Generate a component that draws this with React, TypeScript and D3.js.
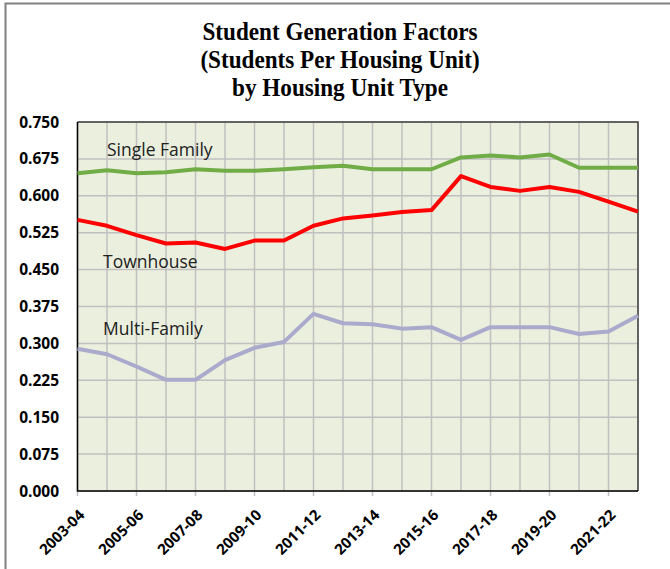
import * as d3 from "d3";
import { useEffect, useRef } from "react";

const years = [
  "2003-04", "2004-05", "2005-06", "2006-07", "2007-08", "2008-09", "2009-10",
  "2010-11", "2011-12", "2012-13", "2013-14", "2014-15", "2015-16", "2016-17",
  "2017-18", "2018-19", "2019-20", "2020-21", "2021-22", "2022-23",
];
const singleFamily = [0.646, 0.652, 0.646, 0.648, 0.654, 0.651, 0.651, 0.654, 0.658, 0.661,
  0.654, 0.654, 0.654, 0.678, 0.682, 0.678, 0.684, 0.657, 0.657, 0.657];
const townhouse = [0.551, 0.539, 0.52, 0.503, 0.505, 0.492, 0.509, 0.509, 0.539, 0.554,
  0.56, 0.567, 0.571, 0.64, 0.618, 0.61, 0.618, 0.608, 0.588, 0.568];
const multiFamily = [0.289, 0.278, 0.253, 0.226, 0.226, 0.266, 0.291, 0.303, 0.36, 0.341,
  0.339, 0.33, 0.333, 0.307, 0.333, 0.333, 0.333, 0.319, 0.324, 0.356];
const yTicks = [0, 0.075, 0.15, 0.225, 0.3, 0.375, 0.45, 0.525, 0.6, 0.675, 0.75];
const titleLines = ["Student Generation Factors", "(Students Per Housing Unit)", "by Housing Unit Type"];

const series = [
  { name: "Single Family", values: singleFamily, color: "#70ad47", labelAt: 0.68 },
  { name: "Townhouse", values: townhouse, color: "#ff0000", labelAt: 0.453 },
  { name: "Multi-Family", values: multiFamily, color: "#aaaacc", labelAt: 0.317 },
];

export default function App() {
  const ref = useRef<SVGSVGElement>(null);

  useEffect(() => {
    const width = 670;
    const height = 569;
    const left = 77.5, right = 638, top = 122, bottom = 491;
    const svg = d3.select(ref.current);
    svg.selectAll("*").remove();

    svg.append("rect").attr("width", width).attr("height", height).attr("fill", "#fff");
    // outer frame (only top and left edges are visible)
    svg.append("path").attr("d", "M5.5,569 V3.5 H670").attr("fill", "none")
      .attr("stroke", "#808080").attr("stroke-width", 2);

    // title: condensed bold serif
    titleLines.forEach((t, i) => {
      svg.append("text")
        .attr("transform", `translate(340,${40 + i * 28}) scale(0.89,1)`)
        .attr("text-anchor", "middle")
        .attr("font-family", "'Liberation Serif', serif")
        .attr("font-weight", "bold").attr("font-size", 26)
        .text(t);
    });

    const x = d3.scalePoint().domain(years).range([left, right]);
    const y = d3.scaleLinear().domain([0, 0.75]).range([bottom, top]);

    svg.append("rect").attr("x", left).attr("y", top)
      .attr("width", right - left).attr("height", bottom - top).attr("fill", "#ebefde");

    const grid = svg.append("g").attr("stroke", "#c0c0c0").attr("stroke-width", 1.5);
    yTicks.forEach((t) => {
      grid.append("line").attr("x1", left).attr("x2", right).attr("y1", y(t)).attr("y2", y(t));
    });
    years.forEach((yr, i) => {
      grid.append("line").attr("x1", x(yr)!).attr("x2", x(yr)!)
        .attr("y1", top).attr("y2", i % 2 === 0 ? bottom + 5 : bottom);
    });

    // plot border: dark top/right, black axes
    svg.append("path").attr("d", `M${left},${top} H${right} V${bottom}`)
      .attr("fill", "none").attr("stroke", "#404040").attr("stroke-width", 1.5);
    svg.append("path").attr("d", `M${left},${top} V${bottom} H${right}`)
      .attr("fill", "none").attr("stroke", "#000").attr("stroke-width", 1.5);

    const line = d3.line<number>().x((d, i) => x(years[i])!).y((d) => y(d));
    series.forEach((s) => {
      svg.append("path").datum(s.values).attr("d", line)
        .attr("fill", "none").attr("stroke", s.color).attr("stroke-width", 4)
        .attr("stroke-linejoin", "round");
    });

    series.forEach((s, i) => {
      svg.append("text").attr("x", i === 0 ? 107 : 103).attr("y", y(s.labelAt))
        .attr("font-family", "'Open Sans', sans-serif").attr("font-size", 17.5)
        .attr("fill", "#222").text(s.name);
    });

    yTicks.forEach((t) => {
      svg.append("text").attr("x", 59).attr("y", y(t) + 5.5)
        .attr("text-anchor", "end")
        .attr("font-family", "'Open Sans', sans-serif").attr("font-weight", "bold")
        .attr("font-size", 15.5).text(d3.format(".3f")(t));
    });

    years.forEach((yr, i) => {
      if (i % 2 !== 0) return;
      svg.append("text")
        .attr("transform", `translate(${x(yr)! + 8},${bottom + 25}) rotate(-45)`)
        .attr("text-anchor", "end")
        .attr("font-family", "'Open Sans', sans-serif").attr("font-weight", "bold")
        .attr("font-size", 15).text(yr);
    });
  }, []);

  return (
    <svg ref={ref} width={670} height={569}
      style={{ position: "absolute", left: 0, top: 0, display: "block" }} />
  );
}
